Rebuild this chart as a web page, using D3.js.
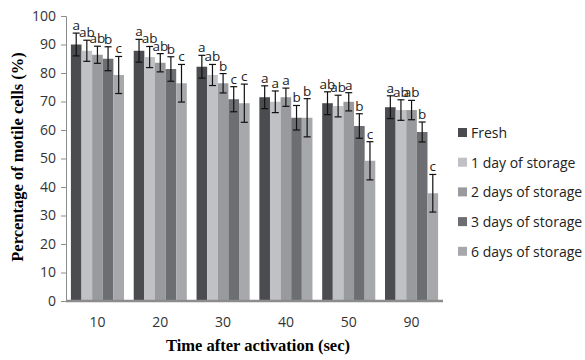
<!DOCTYPE html>
<html>
<head>
<meta charset="utf-8">
<script src="https://cdn.jsdelivr.net/npm/d3@7"></script>
<style>
body{margin:0;background:#fff;}
</style>
</head>
<body>
<svg id="chart" width="585" height="360"></svg>
<script>
let times=['10','20','30','40','50','90'];
let seriesNames=['Fresh','1 day of storage','2 days of storage','3 days of storage','6 days of storage'];
let colors=['#4b4c50','#c0c1c4','#999a9d','#6d6e72','#a7a8ab'];
// mean % per series, one value per time
let fresh=[90,87.8,82.2,71.5,69.4,68];
let day1=[87.8,85.6,79.3,69.9,68.4,67];
let day2=[86.4,83.6,76.4,71.5,69.9,67];
let day3=[85,81.4,70.8,64.3,61.4,59.3];
let day6=[79.3,76.4,69.4,64.3,49.2,37.8];
// error bar half-lengths
let errFresh=[4,4,4,4,4,4];
let errDay1=[3.7,3.7,3.7,3.8,3.8,3.6];
let errDay2=[3,3.2,3.4,3.2,3.2,3.4];
let errDay3=[4.2,4.3,4.4,4.3,4.3,3.5];
let errDay6=[6.5,6.6,6.7,6.7,6.7,6.6];
// significance letters
let letFresh=['a','a','a','a','ab','a'];
let letDay1=['ab','ab','ab','a','ab','ab'];
let letDay2=['ab','ab','b','a','a','ab'];
let letDay3=['b','b','c','b','b','b'];
let letDay6=['c','c','c','b','c','c'];
let yTicks=[0,10,20,30,40,50,60,70,80,90,100];

let values=[fresh,day1,day2,day3,day6];
let errs=[errFresh,errDay1,errDay2,errDay3,errDay6];
let lets=[letFresh,letDay1,letDay2,letDay3,letDay6];

let svg=d3.select('#chart');
let mLeft=66,mRight=443,mTop=16,mBottom=301;

let x=d3.scaleBand().domain(times).range([mLeft,mRight]).paddingInner(0.155).paddingOuter(0.078);
let xs=d3.scaleBand().domain(d3.range(5)).range([0,x.bandwidth()]);
let y=d3.scaleLinear().domain([0,100]).range([mBottom,mTop]);

let rows=[];
times.forEach((t,i)=>{
  for(let s=0;s<5;s++){
    rows.push({t:t,s:s,v:values[s][i],e:errs[s][i],l:lets[s][i]});
  }
});

// y axis
let yAxis=svg.append('g').attr('transform','translate('+mLeft+',0)')
  .call(d3.axisLeft(y).tickValues(yTicks).tickSize(5).tickPadding(5));
yAxis.selectAll('path,line').attr('stroke','#8c8c8c');
yAxis.selectAll('text').attr('font-family','Open Sans').attr('font-size','14px').attr('fill','#333');

// bars
svg.selectAll('rect.bar').data(rows).enter().append('rect')
  .attr('class','bar')
  .attr('x',d=>x(d.t)+xs(d.s))
  .attr('y',d=>y(d.v))
  .attr('width',xs.bandwidth())
  .attr('height',d=>y(0)-y(d.v))
  .attr('fill',d=>colors[d.s]);

// error bars
let eb=svg.append('g').attr('stroke','#111').attr('stroke-width',1.2);
rows.forEach(d=>{
  let cx=x(d.t)+xs(d.s)+xs.bandwidth()/2;
  eb.append('line').attr('x1',cx).attr('x2',cx).attr('y1',y(d.v+d.e)).attr('y2',y(d.v-d.e));
  eb.append('line').attr('x1',cx-3.5).attr('x2',cx+3.5).attr('y1',y(d.v+d.e)).attr('y2',y(d.v+d.e));
  eb.append('line').attr('x1',cx-3.5).attr('x2',cx+3.5).attr('y1',y(d.v-d.e)).attr('y2',y(d.v-d.e));
});

// letters
svg.selectAll('text.let').data(rows).enter().append('text')
  .attr('class','let')
  .attr('x',d=>x(d.t)+xs(d.s)+xs.bandwidth()/2)
  .attr('y',d=>y(d.v+d.e)-3)
  .attr('text-anchor','middle')
  .attr('font-family','Open Sans').attr('font-size','13.5px').attr('fill','#222')
  .text(d=>d.l);

// x axis
let xAxis=svg.append('g').attr('transform','translate(0,'+mBottom+')')
  .call(d3.axisBottom(x).tickSize(0).tickPadding(16));
xAxis.select('path').attr('stroke','#8c8c8c').attr('stroke-width',2.5).attr('d','M'+mLeft+',0H'+mRight);
xAxis.selectAll('text').attr('font-family','Open Sans').attr('font-size','14px').attr('fill','#333');

// axis titles
svg.append('text').attr('x',258).attr('y',351).attr('text-anchor','middle')
  .attr('font-family','Liberation Serif').attr('font-weight','bold').attr('font-size','16.5px')
  .text('Time after activation (sec)');
svg.append('text').attr('transform','translate(23,157) rotate(-90)').attr('text-anchor','middle')
  .attr('font-family','Liberation Serif').attr('font-weight','bold').attr('font-size','16.5px')
  .text('Percentage of motile cells (%)');

// legend
let lg=svg.selectAll('g.leg').data(seriesNames).enter().append('g')
  .attr('class','leg')
  .attr('transform',(d,i)=>'translate(458,'+(133+i*29.7)+')');
lg.append('rect').attr('x',0).attr('y',-5).attr('width',9).attr('height',9).attr('fill',(d,i)=>colors[i]);
lg.append('text').attr('x',13).attr('y',5).attr('font-family','Open Sans').attr('font-size','14px').attr('fill','#222').text(d=>d);
</script>
</body>
</html>
